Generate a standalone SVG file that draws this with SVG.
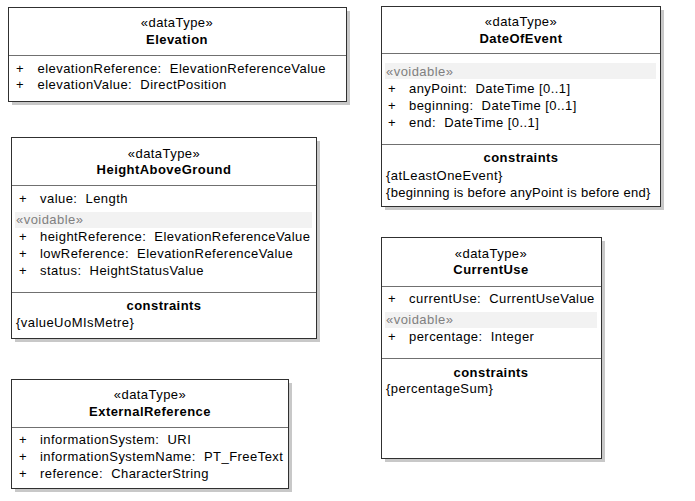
<svg xmlns="http://www.w3.org/2000/svg" width="695" height="501" viewBox="0 0 695 501">
<style>
  text { font-family: "Liberation Sans", Arial, sans-serif; font-size: 13px; letter-spacing: 0.45px; fill: #000; white-space: pre; }
  .c { text-anchor: middle; }
  .b { font-weight: bold; }
  .v { fill: #808080; }
  .box { fill: #fff; stroke: #303030; stroke-width: 1; }
  .sh { fill: #c8c8c8; }
  .sep { stroke: #707070; stroke-width: 1; }
  .band { fill: #f2f2f2; }
</style>
<rect width="695" height="501" fill="#fff"/>
<g id="connectors"/>

<g id="Elevation">
  <rect class="sh" x="12" y="11" width="338" height="94"/>
  <rect class="box" x="8.5" y="7.5" width="338" height="94"/>
  <line class="sep" x1="9" y1="55.5" x2="346" y2="55.5"/>
  <text class="c" x="177" y="27">«dataType»</text>
  <text class="c b" x="177" y="44">Elevation</text>
  <text x="16" y="73">+</text><text x="37.5" y="73" xml:space="preserve">elevationReference:  ElevationReferenceValue</text>
  <text x="16" y="89">+</text><text x="37.5" y="89" xml:space="preserve">elevationValue:  DirectPosition</text>
</g>

<g id="DateOfEvent">
  <rect class="sh" x="385" y="10" width="279" height="200"/>
  <rect class="box" x="381.5" y="6.5" width="279" height="200"/>
  <line class="sep" x1="382" y1="53.5" x2="660" y2="53.5"/>
  <text class="c" x="521" y="26">«dataType»</text>
  <text class="c b" x="521" y="43">DateOfEvent</text>
  <rect class="band" x="385" y="63" width="271" height="16"/>
  <text class="v" x="386" y="76">«voidable»</text>
  <text x="388" y="93">+</text><text x="409" y="93" xml:space="preserve">anyPoint:  DateTime [0..1]</text>
  <text x="388" y="110">+</text><text x="409" y="110" xml:space="preserve">beginning:  DateTime [0..1]</text>
  <text x="388" y="127">+</text><text x="409" y="127" xml:space="preserve">end:  DateTime [0..1]</text>
  <line class="sep" x1="382" y1="144.5" x2="660" y2="144.5"/>
  <text class="c b" x="521" y="162">constraints</text>
  <text x="386" y="180">{atLeastOneEvent}</text>
  <text x="386" y="197" style="letter-spacing:0.3px">{beginning is before anyPoint is before end}</text>
</g>

<g id="HeightAboveGround">
  <rect class="sh" x="15" y="141" width="305" height="201"/>
  <rect class="box" x="11.5" y="137.5" width="305" height="201"/>
  <line class="sep" x1="12" y1="185.5" x2="316" y2="185.5"/>
  <text class="c" x="164" y="158">«dataType»</text>
  <text class="c b" x="164" y="174">HeightAboveGround</text>
  <text x="19" y="203">+</text><text x="40" y="203" xml:space="preserve">value:  Length</text>
  <rect class="band" x="15" y="212" width="297" height="16"/>
  <text class="v" x="16" y="224">«voidable»</text>
  <text x="19" y="241">+</text><text x="40" y="241" xml:space="preserve">heightReference:  ElevationReferenceValue</text>
  <text x="19" y="258">+</text><text x="40" y="258" xml:space="preserve">lowReference:  ElevationReferenceValue</text>
  <text x="19" y="275">+</text><text x="40" y="275" xml:space="preserve">status:  HeightStatusValue</text>
  <line class="sep" x1="12" y1="292.5" x2="316" y2="292.5"/>
  <text class="c b" x="164" y="310">constraints</text>
  <text x="16" y="327">{valueUoMIsMetre}</text>
</g>

<g id="CurrentUse">
  <rect class="sh" x="385" y="241" width="220" height="221"/>
  <rect class="box" x="381.5" y="237.5" width="220" height="221"/>
  <line class="sep" x1="382" y1="286.5" x2="601" y2="286.5"/>
  <text class="c" x="491" y="258">«dataType»</text>
  <text class="c b" x="491" y="274">CurrentUse</text>
  <text x="388" y="303">+</text><text x="409" y="303" xml:space="preserve">currentUse:  CurrentUseValue</text>
  <rect class="band" x="385" y="312" width="212" height="16"/>
  <text class="v" x="386" y="324">«voidable»</text>
  <text x="388" y="341">+</text><text x="409" y="341" xml:space="preserve">percentage:  Integer</text>
  <line class="sep" x1="382" y1="358.5" x2="601" y2="358.5"/>
  <text class="c b" x="491" y="377">constraints</text>
  <text x="386" y="393">{percentageSum}</text>
</g>

<g id="ExternalReference">
  <rect class="sh" x="15" y="383" width="277" height="109"/>
  <rect class="box" x="11.5" y="379.5" width="277" height="109"/>
  <line class="sep" x1="12" y1="427.5" x2="288" y2="427.5"/>
  <text class="c" x="150" y="399">«dataType»</text>
  <text class="c b" x="150" y="416">ExternalReference</text>
  <text x="19" y="444">+</text><text x="40" y="444" xml:space="preserve">informationSystem:  URI</text>
  <text x="19" y="461">+</text><text x="40" y="461" xml:space="preserve">informationSystemName:  PT_FreeText</text>
  <text x="19" y="478">+</text><text x="40" y="478" xml:space="preserve">reference:  CharacterString</text>
</g>
</svg>
